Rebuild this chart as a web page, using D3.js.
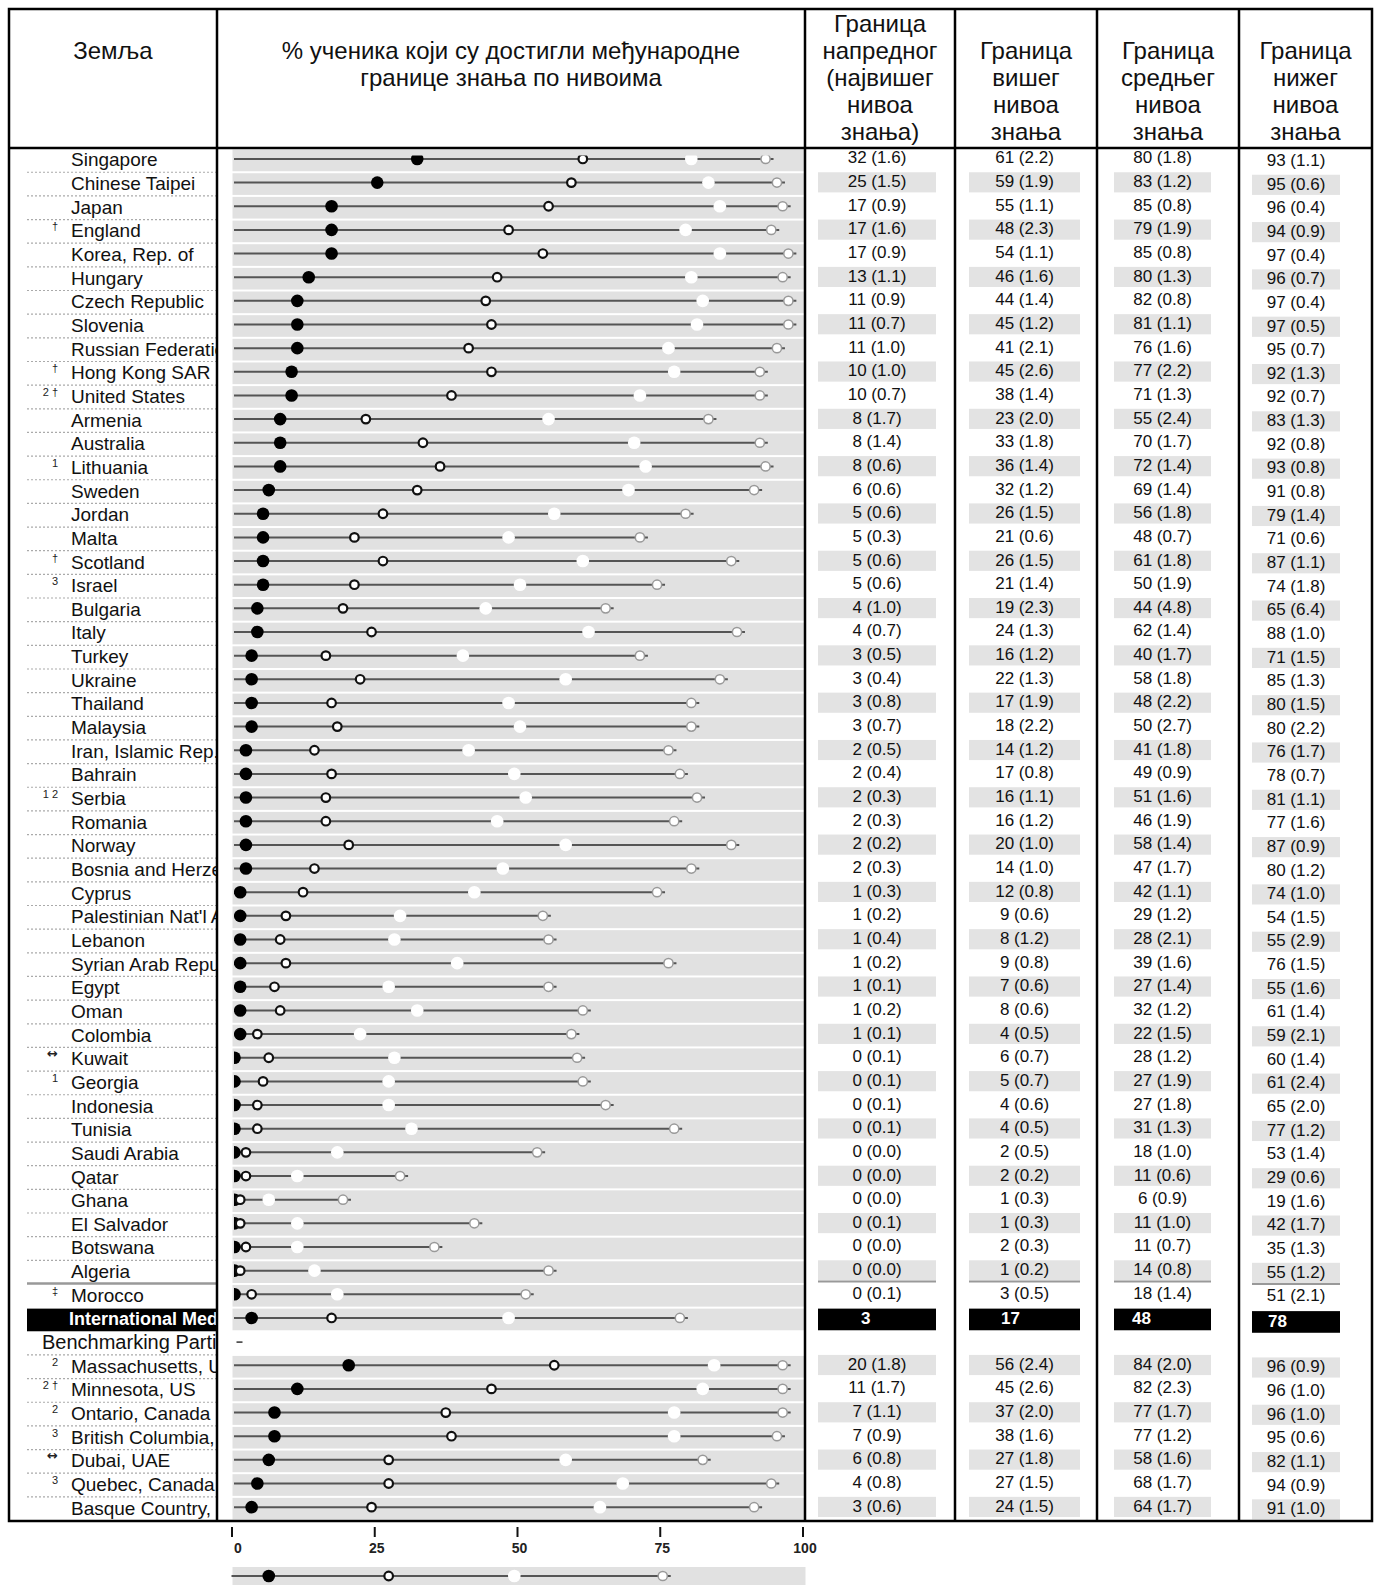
<!DOCTYPE html>
<html>
<head>
<meta charset="utf-8">
<script src="https://cdn.jsdelivr.net/npm/d3@7"></script>
<style>
body { margin: 0; background: #fff; }
text { font-family: "Liberation Sans", Arial, sans-serif; }
</style>
</head>
<body>
<svg id="chart"></svg>
<script>
// header texts
var headCountry = 'Земља';
var headPlot = ['% ученика који су достигли међународне', 'границе знања по нивоима'];
var headCols = [
  ['Граница', 'напредног', '(највишег', 'нивоа', 'знања)'],
  ['Граница', 'вишег', 'нивоа', 'знања'],
  ['Граница', 'средњег', 'нивоа', 'знања'],
  ['Граница', 'нижег', 'нивоа', 'знања']
];

// countries
var countryNames = ['Singapore', 'Chinese Taipei', 'Japan', 'England', 'Korea, Rep. of', 'Hungary', 'Czech Republic',
  'Slovenia', 'Russian Federation', 'Hong Kong SAR', 'United States', 'Armenia', 'Australia', 'Lithuania', 'Sweden',
  'Jordan', 'Malta', 'Scotland', 'Israel', 'Bulgaria', 'Italy', 'Turkey', 'Ukraine', 'Thailand', 'Malaysia',
  'Iran, Islamic Rep. of', 'Bahrain', 'Serbia', 'Romania', 'Norway', 'Bosnia and Herzegovina', 'Cyprus',
  "Palestinian Nat'l Auth.", 'Lebanon', 'Syrian Arab Republic', 'Egypt', 'Oman', 'Colombia', 'Kuwait', 'Georgia',
  'Indonesia', 'Tunisia', 'Saudi Arabia', 'Qatar', 'Ghana', 'El Salvador', 'Botswana', 'Algeria', 'Morocco'];
var countryNotes = ['', '', '', '†', '', '', '', '', '', '†', '2 †', '', '', '1', '', '', '', '†', '3', '', '', '', '', '',
  '', '', '', '1 2', '', '', '', '', '', '', '', '', '', '', '↔', '1', '', '', '', '', '', '', '', '', '‡'];
var advanced = [32, 25, 17, 17, 17, 13, 11, 11, 11, 10, 10, 8, 8, 8, 6, 5, 5, 5, 5, 4, 4, 3, 3, 3, 3, 2, 2, 2, 2, 2, 2,
  1, 1, 1, 1, 1, 1, 1, 0, 0, 0, 0, 0, 0, 0, 0, 0, 0, 0];
var advancedSE = [1.6, 1.5, 0.9, 1.6, 0.9, 1.1, 0.9, 0.7, 1.0, 1.0, 0.7, 1.7, 1.4, 0.6, 0.6, 0.6, 0.3, 0.6, 0.6, 1.0,
  0.7, 0.5, 0.4, 0.8, 0.7, 0.5, 0.4, 0.3, 0.3, 0.2, 0.3, 0.3, 0.2, 0.4, 0.2, 0.1, 0.2, 0.1, 0.1, 0.1, 0.1, 0.1, 0.0,
  0.0, 0.0, 0.1, 0.0, 0.0, 0.1];
var high = [61, 59, 55, 48, 54, 46, 44, 45, 41, 45, 38, 23, 33, 36, 32, 26, 21, 26, 21, 19, 24, 16, 22, 17, 18, 14, 17,
  16, 16, 20, 14, 12, 9, 8, 9, 7, 8, 4, 6, 5, 4, 4, 2, 2, 1, 1, 2, 1, 3];
var highSE = [2.2, 1.9, 1.1, 2.3, 1.1, 1.6, 1.4, 1.2, 2.1, 2.6, 1.4, 2.0, 1.8, 1.4, 1.2, 1.5, 0.6, 1.5, 1.4, 2.3, 1.3,
  1.2, 1.3, 1.9, 2.2, 1.2, 0.8, 1.1, 1.2, 1.0, 1.0, 0.8, 0.6, 1.2, 0.8, 0.6, 0.6, 0.5, 0.7, 0.7, 0.6, 0.5, 0.5, 0.2,
  0.3, 0.3, 0.3, 0.2, 0.5];
var intermediate = [80, 83, 85, 79, 85, 80, 82, 81, 76, 77, 71, 55, 70, 72, 69, 56, 48, 61, 50, 44, 62, 40, 58, 48, 50,
  41, 49, 51, 46, 58, 47, 42, 29, 28, 39, 27, 32, 22, 28, 27, 27, 31, 18, 11, 6, 11, 11, 14, 18];
var intermediateSE = [1.8, 1.2, 0.8, 1.9, 0.8, 1.3, 0.8, 1.1, 1.6, 2.2, 1.3, 2.4, 1.7, 1.4, 1.4, 1.8, 0.7, 1.8, 1.9,
  4.8, 1.4, 1.7, 1.8, 2.2, 2.7, 1.8, 0.9, 1.6, 1.9, 1.4, 1.7, 1.1, 1.2, 2.1, 1.6, 1.4, 1.2, 1.5, 1.2, 1.9, 1.8, 1.3,
  1.0, 0.6, 0.9, 1.0, 0.7, 0.8, 1.4];
var low = [93, 95, 96, 94, 97, 96, 97, 97, 95, 92, 92, 83, 92, 93, 91, 79, 71, 87, 74, 65, 88, 71, 85, 80, 80, 76, 78,
  81, 77, 87, 80, 74, 54, 55, 76, 55, 61, 59, 60, 61, 65, 77, 53, 29, 19, 42, 35, 55, 51];
var lowSE = [1.1, 0.6, 0.4, 0.9, 0.4, 0.7, 0.4, 0.5, 0.7, 1.3, 0.7, 1.3, 0.8, 0.8, 0.8, 1.4, 0.6, 1.1, 1.8, 6.4, 1.0,
  1.5, 1.3, 1.5, 2.2, 1.7, 0.7, 1.1, 1.6, 0.9, 1.2, 1.0, 1.5, 2.9, 1.5, 1.6, 1.4, 2.1, 1.4, 2.4, 2.0, 1.2, 1.4, 0.6,
  1.6, 1.7, 1.3, 1.2, 2.1];

// international median
var medianName = 'International Median';
var medianValues = [3, 17, 48, 78];

// benchmarking participants
var benchTitle = 'Benchmarking Participants';
var benchNames = ['Massachusetts, US', 'Minnesota, US', 'Ontario, Canada', 'British Columbia, Canada', 'Dubai, UAE',
  'Quebec, Canada', 'Basque Country, Spain'];
var benchNotes = ['2', '2 †', '2', '3', '↔', '3', ''];
var benchAdvanced = [20, 11, 7, 7, 6, 4, 3];
var benchAdvancedSE = [1.8, 1.7, 1.1, 0.9, 0.8, 0.8, 0.6];
var benchHigh = [56, 45, 37, 38, 27, 27, 24];
var benchHighSE = [2.4, 2.6, 2.0, 1.6, 1.8, 1.5, 1.5];
var benchIntermediate = [84, 82, 77, 77, 58, 68, 64];
var benchIntermediateSE = [2.0, 2.3, 1.7, 1.2, 1.6, 1.7, 1.7];
var benchLow = [96, 96, 96, 95, 82, 94, 91];
var benchLowSE = [0.9, 1.0, 1.0, 0.6, 1.1, 0.9, 1.0];

// axis + legend
var axisTicks = [0, 25, 50, 75, 100];
var legendValues = [6, 27, 49, 75];

// build rows
var rows = [];
countryNames.forEach(function(n, i) {
  rows.push({key: 'c' + i, kind: 'country', name: n, note: countryNotes[i],
    vals: [advanced[i], high[i], intermediate[i], low[i]],
    se: [advancedSE[i], highSE[i], intermediateSE[i], lowSE[i]],
    shade: i % 2 === 1, rule: n === 'Algeria'});
});
rows.push({key: 'median', kind: 'median', name: medianName, note: '', vals: medianValues});
rows.push({key: 'bench', kind: 'header', name: benchTitle, note: ''});
benchNames.forEach(function(n, i) {
  rows.push({key: 'b' + i, kind: 'bench', name: n, note: benchNotes[i],
    vals: [benchAdvanced[i], benchHigh[i], benchIntermediate[i], benchLow[i]],
    se: [benchAdvancedSE[i], benchHighSE[i], benchIntermediateSE[i], benchLowSE[i]],
    shade: i % 2 === 0, last: i === benchNames.length - 1});
});

var width = 1378;
var height = 1585;

var svg = d3.select('#chart')
  .attr('width', width)
  .attr('height', height);

var x = d3.scaleLinear().domain([0, 100]).range([234.5, 805.5]);
var y = d3.scaleBand().domain(rows.map(function(d) { return d.key; })).range([148.6, 1520.5]);
var bw = y.bandwidth();
function mid(d) { return y(d.key) + bw / 2; }

// value columns layout
var cols = [
  {x: 818, w: 118, mx: 43, dy: 0},
  {x: 969, w: 111, mx: 32, dy: 0},
  {x: 1114, w: 97, mx: 18, dy: 0},
  {x: 1252, w: 88, mx: 16, dy: 2.5}
];
var colLines = [805, 955, 1097, 1239, 1372];

var defs = svg.append('defs');
defs.append('clipPath').attr('id', 'clipLeft')
  .append('rect').attr('x', 10).attr('y', 150).attr('width', 206).attr('height', 1371);
defs.append('clipPath').attr('id', 'clipPlot')
  .append('rect').attr('x', 234).attr('y', 155.5).attr('width', 576).attr('height', 1370);

// ---- plot bands
var plot = svg.append('g');
plot.selectAll('rect.band')
  .data(rows.filter(function(d) { return d.kind !== 'header'; }))
  .enter().append('rect')
    .attr('class', 'band')
    .attr('x', x(0) - 2)
    .attr('y', function(d) { return y(d.key) + 1; })
    .attr('width', x(100) - x(0) + 2)
    .attr('height', bw - 2)
    .style('fill', '#e1e1e1');

var marks = plot.append('g').attr('clip-path', 'url(#clipPlot)');
var dataRows = rows.filter(function(d) { return d.vals; });

marks.selectAll('line.range')
  .data(dataRows)
  .enter().append('line')
    .attr('x1', x(0) - 1)
    .attr('x2', function(d) { return x(d.vals[3]) + 8; })
    .attr('y1', function(d) { return mid(d) - 1.5; })
    .attr('y2', function(d) { return mid(d) - 1.5; })
    .style('stroke', '#555')
    .style('stroke-width', 2);

// marker styles: advanced, high, intermediate, low
var markStyles = [
  {r: 6.3, fill: '#000', stroke: 'none', sw: 0},
  {r: 4.3, fill: '#fff', stroke: '#111', sw: 2.2},
  {r: 6.3, fill: '#fff', stroke: 'none', sw: 0},
  {r: 4.6, fill: '#fff', stroke: '#999', sw: 1.5}
];

function drawMarks(g, rowsIn, ypos) {
  markStyles.forEach(function(s, k) {
    g.selectAll('circle.m' + k)
      .data(rowsIn)
      .enter().append('circle')
        .attr('class', 'm' + k)
        .attr('cx', function(d) { return x(d.vals[k]); })
        .attr('cy', ypos)
        .attr('r', s.r)
        .style('fill', s.fill)
        .style('stroke', s.stroke)
        .style('stroke-width', s.sw);
  });
}
drawMarks(marks, dataRows, function(d) { return mid(d) - 1.5; });

// dash in the benchmarking header row
var hdr = rows.filter(function(d) { return d.kind === 'header'; })[0];
plot.append('line')
  .attr('x1', x(0) + 2).attr('x2', x(0) + 8)
  .attr('y1', mid(hdr) - 1).attr('y2', mid(hdr) - 1)
  .style('stroke', '#333').style('stroke-width', 1.5);

// ---- left column: names
var left = svg.append('g');
left.selectAll('line.sep')
  .data(rows.filter(function(d) { return d.kind !== 'median' && d.name !== 'Morocco' && !d.rule && !d.last; }))
  .enter().append('line')
    .attr('x1', 27).attr('x2', 216)
    .attr('y1', function(d) { return y(d.key) + bw; })
    .attr('y2', function(d) { return y(d.key) + bw; })
    .style('stroke', '#aaa')
    .style('stroke-width', 1.2)
    .style('stroke-dasharray', '2,2');

left.selectAll('line.rule')
  .data(rows.filter(function(d) { return d.rule; }))
  .enter().append('line')
    .attr('x1', 27).attr('x2', 216)
    .attr('y1', function(d) { return y(d.key) + bw - 0.5; })
    .attr('y2', function(d) { return y(d.key) + bw - 0.5; })
    .style('stroke', '#999')
    .style('stroke-width', 2.5);

var med = rows.filter(function(d) { return d.kind === 'median'; })[0];
left.append('rect')
  .attr('x', 27).attr('y', y(med.key) + 1)
  .attr('width', 190).attr('height', bw - 1)
  .style('fill', '#000');

var names = left.append('g').attr('clip-path', 'url(#clipLeft)');
names.selectAll('text.name')
  .data(rows)
  .enter().append('text')
    .attr('x', function(d) { return d.kind === 'header' ? 42 : (d.kind === 'median' ? 69 : 71); })
    .attr('y', function(d) { return mid(d) + 6; })
    .style('font-size', function(d) { return d.kind === 'median' ? '18px' : (d.kind === 'header' ? '20px' : '19px'); })
    .style('font-weight', function(d) { return d.kind === 'median' ? 'bold' : 'normal'; })
    .style('fill', function(d) { return d.kind === 'median' ? '#fff' : '#111'; })
    .text(function(d) { return d.name; });

names.selectAll('text.note')
  .data(rows.filter(function(d) { return d.note; }))
  .enter().append('text')
    .attr('x', 58)
    .attr('y', function(d) { return mid(d) - 1; })
    .attr('text-anchor', 'end')
    .style('font-family', function(d) { return d.note === '↔' ? '"DejaVu Sans", sans-serif' : null; })
    .style('font-weight', function(d) { return d.note === '↔' ? 'bold' : 'normal'; })
    .style('font-size', function(d) { return d.note === '↔' ? '13px' : '11px'; })
    .style('fill', '#222')
    .text(function(d) { return d.note; });

// ---- value columns
var vals = svg.append('g');
cols.forEach(function(c, k) {
  var g = vals.append('g');
  g.selectAll('rect.shade')
    .data(rows.filter(function(d) { return d.shade; }))
    .enter().append('rect')
      .attr('x', c.x)
      .attr('y', function(d) { return y(d.key) + c.dy; })
      .attr('width', c.w)
      .attr('height', bw - 3.5)
      .style('fill', '#e3e3e3');
  g.selectAll('line.rule')
    .data(rows.filter(function(d) { return d.rule; }))
    .enter().append('line')
      .attr('x1', c.x).attr('x2', c.x + c.w)
      .attr('y1', function(d) { return y(d.key) + bw - 2.5 + c.dy; })
      .attr('y2', function(d) { return y(d.key) + bw - 2.5 + c.dy; })
      .style('stroke', '#999')
      .style('stroke-width', 2);
  g.selectAll('text.val')
    .data(rows.filter(function(d) { return d.se; }))
    .enter().append('text')
      .attr('x', c.x + c.w / 2)
      .attr('y', function(d) { return mid(d) + 3 + c.dy; })
      .attr('text-anchor', 'middle')
      .style('font-size', '17px')
      .style('fill', '#111')
      .text(function(d) { return d.vals[k] + ' (' + d.se[k].toFixed(1) + ')'; });
  g.append('rect')
    .attr('x', c.x)
    .attr('y', y(med.key) + 1 + c.dy)
    .attr('width', c.w)
    .attr('height', bw - 2)
    .style('fill', '#000');
  g.append('text')
    .attr('x', c.x + c.mx)
    .attr('y', mid(med) + 5 + c.dy)
    .style('font-size', '17px')
    .style('font-weight', 'bold')
    .style('fill', '#fff')
    .text(med.vals[k]);
});

// ---- headers
var head = svg.append('g').style('fill', '#111').style('font-size', '24px');
head.append('text')
  .attr('x', 113).attr('y', 59)
  .attr('text-anchor', 'middle')
  .text(headCountry);
head.selectAll('text.hp')
  .data(headPlot)
  .enter().append('text')
    .attr('x', 511)
    .attr('y', function(d, i) { return 59 + i * 27; })
    .attr('text-anchor', 'middle')
    .text(function(d) { return d; });

headCols.forEach(function(lines, k) {
  var cx = (colLines[k] + colLines[k + 1]) / 2;
  head.selectAll('text.hc' + k)
    .data(lines)
    .enter().append('text')
      .attr('x', cx)
      .attr('y', function(d, i) { return 140 - (lines.length - 1 - i) * 27; })
      .attr('text-anchor', 'middle')
      .text(function(d) { return d; });
});

// ---- table borders
var grid = svg.append('g').style('stroke', '#000').style('stroke-width', 2.5).style('fill', 'none');
grid.append('rect').attr('x', 9).attr('y', 9).attr('width', 1363).attr('height', 1512);
grid.append('line').attr('x1', 9).attr('x2', 1372).attr('y1', 148).attr('y2', 148);
[217].concat(colLines.slice(0, 4)).forEach(function(cx) {
  grid.append('line').attr('x1', cx).attr('x2', cx).attr('y1', 9).attr('y2', 1521);
});

// ---- axis
var axis = d3.axisBottom(x)
  .tickValues(axisTicks)
  .tickSize(10)
  .tickPadding(6)
  .tickFormat(d3.format('d'));
var ax = svg.append('g')
  .attr('transform', 'translate(-3,1527)')
  .call(axis);
ax.select('.domain').remove();
ax.selectAll('.tick line').style('stroke', '#111').style('stroke-width', 2);
ax.selectAll('.tick text')
  .attr('dx', function(d) { return d === 0 ? 6 : 2; })
  .style('font-family', '"Liberation Sans", Arial, sans-serif')
  .style('font-size', '14px')
  .style('font-weight', 'bold')
  .style('fill', '#222');

// ---- legend
var leg = svg.append('g');
leg.append('rect')
  .attr('x', x(0) - 2).attr('y', 1567)
  .attr('width', x(100) - x(0) + 2).attr('height', 20)
  .style('fill', '#e1e1e1');
leg.append('line')
  .attr('x1', x(0) - 3).attr('x2', x(legendValues[3]) + 8)
  .attr('y1', 1576).attr('y2', 1576)
  .style('stroke', '#555').style('stroke-width', 2);
drawMarks(leg, [{vals: legendValues}], 1576);
</script>
</body>
</html>
